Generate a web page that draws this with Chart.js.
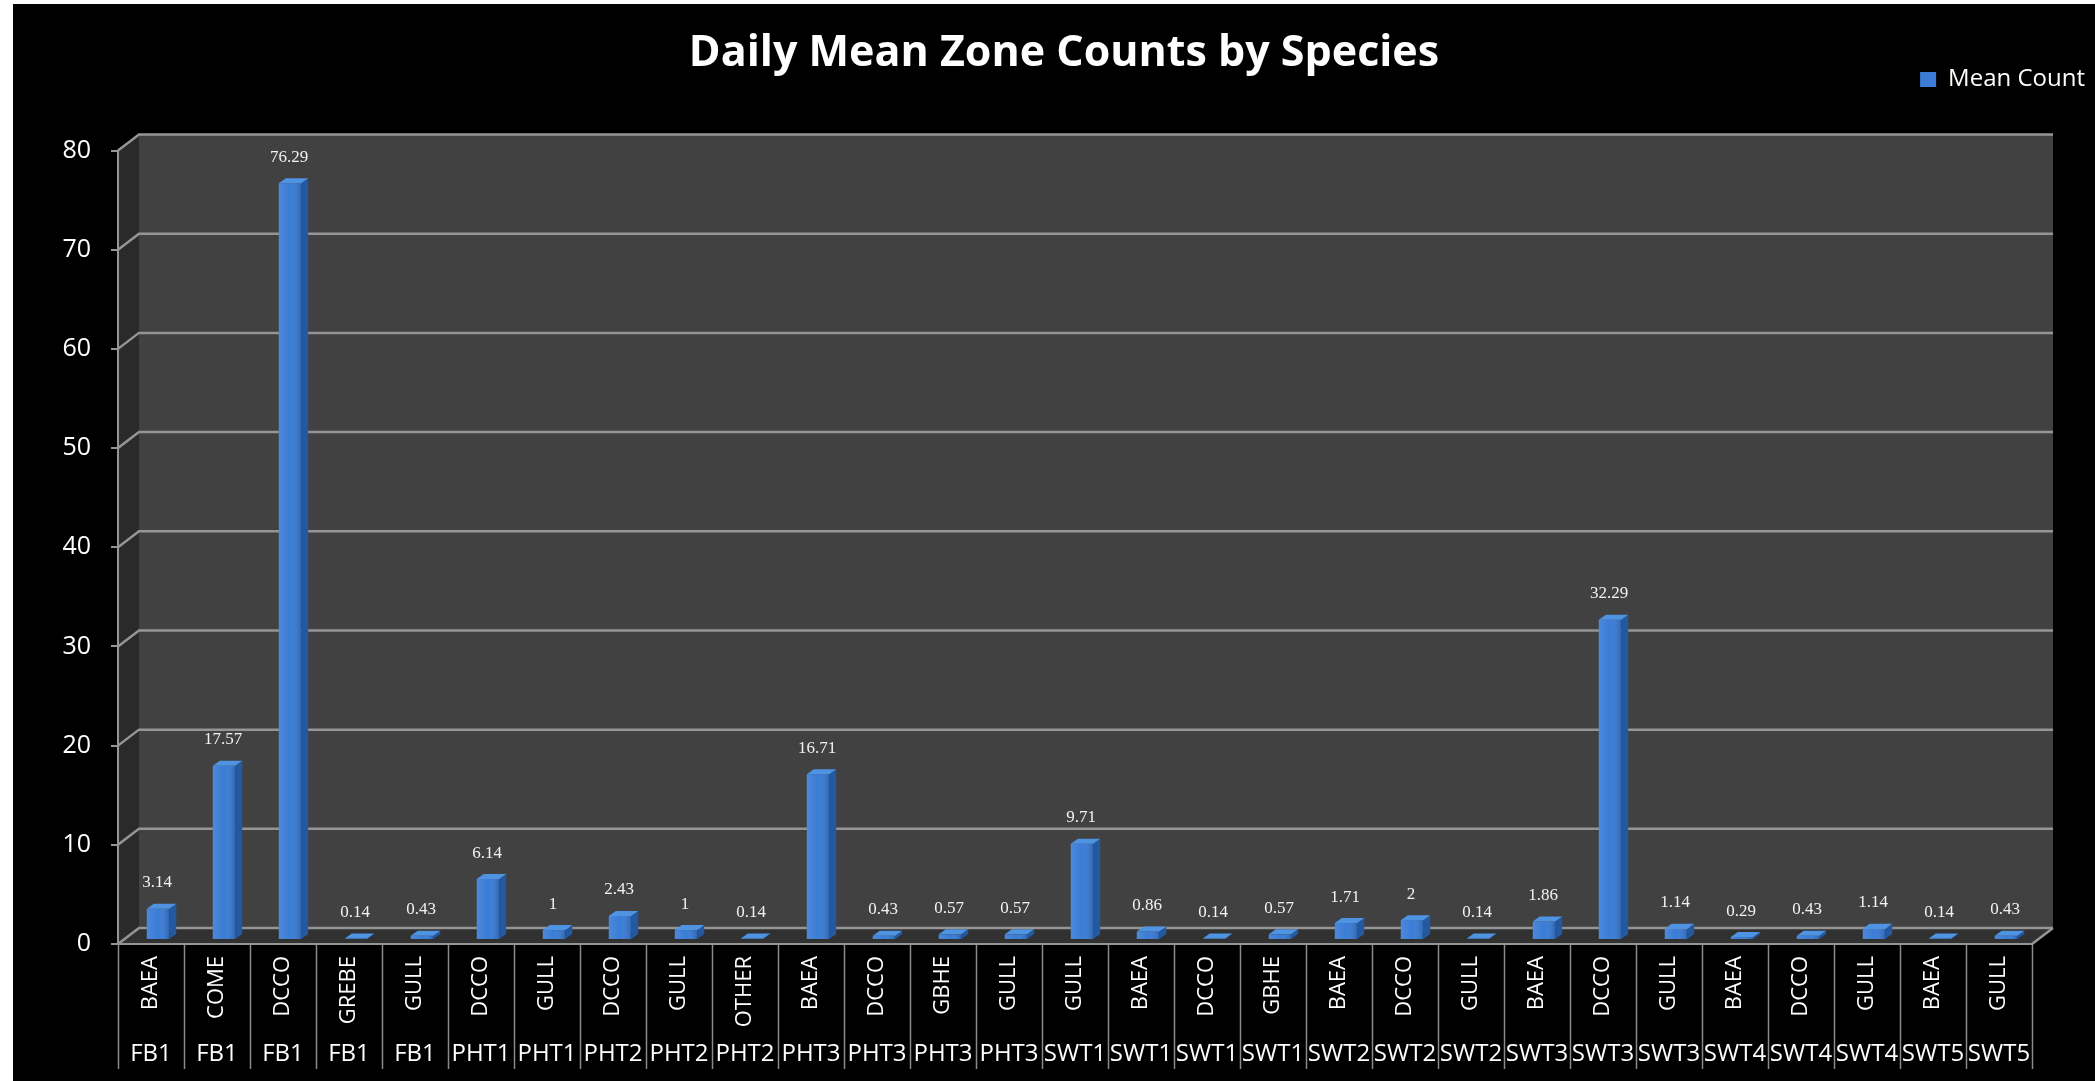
<!DOCTYPE html>
<html><head><meta charset="utf-8">
<script src="https://cdn.jsdelivr.net/npm/chart.js@4/dist/chart.umd.min.js"></script>
<style>html,body{margin:0;padding:0;background:#fff;overflow:hidden}canvas{display:block}</style>
</head><body>
<canvas id="c" width="2095" height="1081"></canvas>
<script>
// ---- data ----
const species = ["BAEA","COME","DCCO","GREBE","GULL","DCCO","GULL","DCCO","GULL","OTHER","BAEA","DCCO","GBHE","GULL","GULL","BAEA","DCCO","GBHE","BAEA","DCCO","GULL","BAEA","DCCO","GULL","BAEA","DCCO","GULL","BAEA","GULL"];
const zones = ["FB1","FB1","FB1","FB1","FB1","PHT1","PHT1","PHT2","PHT2","PHT2","PHT3","PHT3","PHT3","PHT3","SWT1","SWT1","SWT1","SWT1","SWT2","SWT2","SWT2","SWT3","SWT3","SWT3","SWT4","SWT4","SWT4","SWT5","SWT5"];
const meanCounts = [3.14,17.57,76.29,0.14,0.43,6.14,1,2.43,1,0.14,16.71,0.43,0.57,0.57,9.71,0.86,0.14,0.57,1.71,2,0.14,1.86,32.29,1.14,0.29,0.43,1.14,0.14,0.43];
const yMin = 0, yMax = 80, yStep = 10;
const seriesName = "Mean Count";
const chartTitle = "Daily Mean Zone Counts by Species";

// ---- styling constants ----
const WALL = {dx: 21, dy: -16};
const SHIFT = {dx: 7, dy: -4};
const FACE = {dx: 7, dy: -5};
const GRID = '#959595';

function poly(ctx, pts, fill) {
  ctx.beginPath();
  ctx.moveTo(pts[0][0], pts[0][1]);
  for (let i = 1; i < pts.length; i++) ctx.lineTo(pts[i][0], pts[i][1]);
  ctx.closePath();
  ctx.fillStyle = fill; ctx.fill();
}

const scene = {
  id: 'scene',
  beforeDraw(chart) {
    const {ctx, chartArea: a, scales} = chart;
    const y = scales.y, x = scales.x, x2 = scales.x2;
    ctx.save();
    ctx.fillStyle = '#fff'; ctx.fillRect(0, 0, chart.width, chart.height);
    ctx.fillStyle = '#000'; ctx.fillRect(13, 4, chart.width - 13, chart.height - 4);
    const L = a.left, R = a.right, T = y.getPixelForValue(yMax), B = y.getPixelForValue(yMin);
    const dx = WALL.dx, dy = WALL.dy;
    poly(ctx, [[L+dx,T+dy],[R+dx,T+dy],[R+dx,B+dy],[L+dx,B+dy]], '#414141');
    poly(ctx, [[L,T],[L+dx,T+dy],[L+dx,B+dy],[L,B]], '#2a2a2a');
    poly(ctx, [[L,B],[L+dx,B+dy],[R+dx,B+dy],[R,B]], '#313131');
    ctx.strokeStyle = GRID; ctx.lineWidth = 2.5;
    for (let v = yMin; v <= yMax; v += yStep) {
      const py = y.getPixelForValue(v);
      ctx.beginPath();
      ctx.moveTo(L, py); ctx.lineTo(L+dx, py+dy); ctx.lineTo(R+dx, py+dy);
      ctx.stroke();
    }
    ctx.beginPath(); ctx.moveTo(R, B); ctx.lineTo(R+dx, B+dy); ctx.stroke();
    ctx.lineWidth = 1.5; ctx.strokeStyle = '#8a8a8a';
    const bottom = x2.bottom - 12;
    for (let i = 0; i <= species.length; i++) {
      const px = Math.round(x.getPixelForValue(i - 0.5)) + 0.5;
      ctx.beginPath(); ctx.moveTo(px, B); ctx.lineTo(px, bottom); ctx.stroke();
    }
    ctx.restore();
  },
  beforeDatasetsDraw(chart) {
    chart.ctx.save();
    chart.ctx.translate(SHIFT.dx, SHIFT.dy);
  },
  afterDatasetsDraw(chart) {
    const ctx = chart.ctx;
    const meta = chart.getDatasetMeta(0);
    meta.data.forEach((el) => {
      const {x, y, base, width} = el.getProps(['x','y','base','width'], true);
      const l = x - width/2, r = x + width/2;
      const g = ctx.createLinearGradient(l, 0, r, 0);
      g.addColorStop(0, 'rgba(255,255,255,0.10)');
      g.addColorStop(0.5, 'rgba(255,255,255,0.0)');
      g.addColorStop(1, 'rgba(0,0,0,0.18)');
      ctx.fillStyle = g; ctx.fillRect(l, y, width, base - y);
      poly(ctx, [[r,y],[r+FACE.dx,y+FACE.dy],[r+FACE.dx,base+FACE.dy],[r,base]], '#24589f');
      poly(ctx, [[l,y],[r,y],[r+FACE.dx,y+FACE.dy],[l+FACE.dx,y+FACE.dy]], '#4f93e3');
    });
    ctx.restore();
    ctx.save();
    ctx.font = '17px "Liberation Serif", "Times New Roman", serif';
    ctx.fillStyle = '#f2f2f2';
    ctx.textAlign = 'center'; ctx.textBaseline = 'middle';
    meta.data.forEach((el, i) => {
      const {x, y} = el.getProps(['x','y'], true);
      ctx.fillText(String(meanCounts[i]), x + SHIFT.dx - 1, y + SHIFT.dy - 26);
    });
    ctx.restore();
  }
};

new Chart(document.getElementById('c'), {
  type: 'bar',
  data: {
    labels: species,
    datasets: [{
      label: seriesName,
      data: meanCounts,
      backgroundColor: '#3a7cd6',
      borderWidth: 0,
      barPercentage: 0.34,
      categoryPercentage: 1,
      clip: false
    }]
  },
  options: {
    responsive: false,
    animation: false,
    devicePixelRatio: 1,
    layout: {padding: {left: 40, right: 7, top: 0, bottom: 0}},
    plugins: {
      title: {
        display: true, text: chartTitle, color: '#ffffff',
        font: {family: '"Open Sans", sans-serif', size: 43, weight: 'bold', lineHeight: 0.5},
        padding: {top: 43, bottom: 0}
      },
      legend: {
        display: true, position: 'top', align: 'end',
        labels: {
          color: '#ffffff', boxWidth: 16, boxHeight: 15, padding: 3,
          font: {family: '"Open Sans", sans-serif', size: 24}
        }
      },
      subtitle: {
        display: true, text: '', weight: 500,
        font: {size: 10, lineHeight: 1}, padding: {top: 0, bottom: 39}
      },
      tooltip: {enabled: false}
    },
    scales: {
      y: {
        type: 'linear', position: 'left', min: yMin, max: yMax,
        afterFit(s) { s.width = 78; },
        ticks: {stepSize: yStep, color: '#ffffff', padding: 20,
          font: {family: '"Open Sans", sans-serif', size: 25}},
        grid: {drawOnChartArea: false, drawTicks: true, tickLength: 7, color: GRID, lineWidth: 2},
        border: {display: true, color: GRID, width: 2}
      },
      yR: {
        type: 'linear', position: 'right', display: true,
        afterFit(s) { s.width = 56; },
        ticks: {display: false}, grid: {display: false}, border: {display: false}
      },
      x: {
        type: 'category', position: 'bottom',
        afterFit(s) { s.height = 86; },
        ticks: {autoSkip: false, minRotation: 90, maxRotation: 90, padding: 12, color: '#ffffff',
          font: {family: '"Open Sans", sans-serif', size: 22}},
        grid: {drawOnChartArea: false, drawTicks: false},
        border: {display: true, color: GRID, width: 2}
      },
      x2: {
        type: 'category', position: 'bottom', labels: zones, offset: true,
        afterFit(s) { s.height = 51; },
        ticks: {autoSkip: false, maxRotation: 0, minRotation: 0, padding: 10, color: '#ffffff',
          font: {family: '"Open Sans", sans-serif', size: 24}},
        grid: {display: false, drawTicks: false},
        border: {display: false}
      }
    }
  },
  plugins: [scene]
});
</script>
</body></html>
